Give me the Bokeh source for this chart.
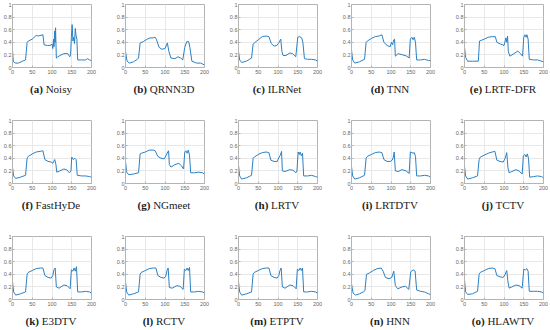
from bokeh.plotting import figure
from bokeh.layouts import column, row
from bokeh.models import Div, Range1d, FixedTicker
from bokeh.embed import file_html
from bokeh.resources import INLINE

x_ticks = [0, 50, 100, 150, 200]
x_tick_labels = ["0", "50", "100", "150", "200"]
y_ticks = [0, 0.2, 0.4, 0.6, 0.8, 1]
y_tick_labels = ["0", "0.2", "0.4", "0.6", "0.8", "1"]

letters = ["a", "b", "c", "d", "e", "f", "g", "h", "i", "j", "k", "l", "m", "n", "o"]
names = ["Noisy", "QRNN3D", "ILRNet", "TNN", "LRTF-DFR",
         "FastHyDe", "NGmeet", "LRTV", "LRTDTV", "TCTV",
         "E3DTV", "RCTV", "ETPTV", "HNN", "HLAWTV"]

noisy_x = [0, 2, 4, 8, 15, 25, 33, 37, 40, 50, 60, 65, 77, 80, 88, 95, 100, 102, 104, 105, 107, 108, 109, 111,
           115, 120, 130, 140, 145, 147, 149, 151, 153, 155, 157, 159, 161, 163, 165, 175, 185, 190, 195, 200]
noisy_y = [0.27, 0.10, 0.08, 0.07, 0.07, 0.10, 0.12, 0.40, 0.42, 0.45, 0.51, 0.50, 0.52, 0.36, 0.35, 0.35, 0.37, 0.30,
           0.45, 0.33, 0.58, 0.40, 0.63, 0.15, 0.17, 0.19, 0.22, 0.22, 0.17, 0.20, 0.48, 0.68, 0.42, 0.48, 0.38, 0.62,
           0.50, 0.45, 0.12, 0.12, 0.12, 0.14, 0.12, 0.11]

qrnn3d_x = [0, 4, 10, 20, 30, 33, 37, 45, 55, 62, 70, 75, 78, 85, 92, 100, 106, 110, 115, 125, 133, 140, 145, 150,
            155, 160, 163, 168, 180, 190, 200]
qrnn3d_y = [0.25, 0.10, 0.07, 0.09, 0.13, 0.15, 0.39, 0.41, 0.45, 0.47, 0.47, 0.48, 0.45, 0.32, 0.29, 0.30, 0.39,
            0.25, 0.15, 0.14, 0.17, 0.15, 0.12, 0.32, 0.41, 0.41, 0.32, 0.10, 0.07, 0.07, 0.04]

ilrnet_x = [0, 3, 8, 20, 33, 37, 40, 50, 60, 70, 77, 83, 90, 97, 103, 107, 110, 113, 120, 130, 137, 145, 150, 155,
            160, 163, 167, 175, 185, 195, 200]
ilrnet_y = [0.25, 0.12, 0.08, 0.10, 0.15, 0.37, 0.39, 0.44, 0.49, 0.50, 0.49, 0.38, 0.34, 0.35, 0.40, 0.45, 0.25,
            0.19, 0.19, 0.23, 0.22, 0.17, 0.48, 0.49, 0.47, 0.40, 0.14, 0.13, 0.13, 0.12, 0.10]

tnn_x = [0, 3, 8, 20, 33, 37, 40, 50, 60, 70, 77, 82, 90, 98, 101, 104, 107, 109, 111, 118, 130, 140, 146, 149,
         153, 156, 159, 162, 165, 175, 185, 195, 200]
tnn_y = [0.28, 0.12, 0.07, 0.09, 0.13, 0.40, 0.42, 0.46, 0.49, 0.50, 0.52, 0.40, 0.35, 0.33, 0.40, 0.36, 0.44,
         0.45, 0.18, 0.22, 0.20, 0.18, 0.15, 0.45, 0.48, 0.44, 0.48, 0.40, 0.12, 0.12, 0.13, 0.11, 0.11]

lrtfdfr_x = [0, 3, 8, 20, 35, 38, 42, 50, 60, 70, 78, 82, 92, 100, 103, 105, 107, 109, 111, 115, 125, 135, 142,
             147, 150, 153, 156, 158, 161, 164, 175, 185, 195, 200]
lrtfdfr_y = [0.32, 0.16, 0.10, 0.10, 0.10, 0.42, 0.43, 0.45, 0.48, 0.49, 0.49, 0.40, 0.37, 0.35, 0.42, 0.47, 0.40,
             0.50, 0.25, 0.18, 0.22, 0.26, 0.22, 0.18, 0.48, 0.52, 0.48, 0.52, 0.45, 0.13, 0.12, 0.12, 0.10, 0.09]

fasthyde_x = [0, 3, 8, 20, 33, 37, 40, 50, 60, 70, 77, 82, 90, 98, 102, 107, 110, 112, 120, 130, 137, 144, 148,
              150, 154, 158, 161, 164, 175, 185, 195, 200]
fasthyde_y = [0.25, 0.12, 0.08, 0.10, 0.13, 0.40, 0.43, 0.47, 0.50, 0.51, 0.52, 0.38, 0.35, 0.34, 0.32, 0.38, 0.30,
              0.18, 0.20, 0.23, 0.22, 0.17, 0.20, 0.42, 0.38, 0.40, 0.38, 0.13, 0.12, 0.12, 0.11, 0.10]

ngmeet_x = [0, 3, 8, 20, 33, 37, 40, 50, 60, 70, 75, 82, 90, 98, 103, 107, 109, 111, 115, 125, 135, 142, 147, 150,
            153, 156, 159, 162, 165, 175, 185, 195, 200]
ngmeet_y = [0.35, 0.18, 0.14, 0.15, 0.17, 0.47, 0.48, 0.50, 0.53, 0.53, 0.52, 0.43, 0.40, 0.39, 0.45, 0.50, 0.52,
            0.30, 0.26, 0.30, 0.32, 0.28, 0.23, 0.50, 0.52, 0.48, 0.53, 0.45, 0.17, 0.17, 0.18, 0.17, 0.15]

lrtv_x = [0, 3, 8, 20, 33, 37, 40, 50, 60, 70, 77, 82, 90, 98, 103, 106, 109, 111, 118, 130, 138, 145, 148, 151,
          154, 156, 159, 162, 165, 175, 185, 195, 200]
lrtv_y = [0.29, 0.12, 0.07, 0.09, 0.13, 0.40, 0.42, 0.46, 0.49, 0.50, 0.49, 0.37, 0.35, 0.35, 0.42, 0.45, 0.51,
          0.20, 0.19, 0.22, 0.21, 0.17, 0.20, 0.50, 0.46, 0.50, 0.44, 0.48, 0.12, 0.12, 0.13, 0.11, 0.10]

lrtdtv_x = [0, 3, 8, 20, 33, 37, 40, 50, 60, 70, 77, 82, 90, 98, 103, 106, 108, 111, 118, 128, 138, 146, 149, 153,
            156, 159, 162, 165, 175, 185, 195, 200]
lrtdtv_y = [0.27, 0.12, 0.07, 0.09, 0.13, 0.40, 0.43, 0.46, 0.49, 0.50, 0.49, 0.38, 0.35, 0.35, 0.37, 0.42, 0.50,
            0.20, 0.19, 0.22, 0.20, 0.16, 0.50, 0.49, 0.48, 0.49, 0.43, 0.12, 0.12, 0.13, 0.12, 0.10]

tctv_x = [0, 3, 8, 20, 33, 37, 40, 50, 60, 70, 77, 82, 90, 98, 103, 107, 110, 113, 120, 130, 138, 146, 149, 153,
          156, 159, 162, 165, 175, 185, 195, 200]
tctv_y = [0.27, 0.12, 0.07, 0.09, 0.12, 0.38, 0.42, 0.45, 0.48, 0.50, 0.51, 0.37, 0.35, 0.34, 0.40, 0.49, 0.25,
          0.17, 0.19, 0.22, 0.20, 0.15, 0.44, 0.46, 0.42, 0.47, 0.40, 0.10, 0.11, 0.12, 0.11, 0.09]

e3dtv_x = [0, 3, 8, 20, 33, 37, 40, 50, 60, 70, 77, 82, 90, 98, 102, 105, 108, 111, 118, 130, 138, 146, 149, 153,
           156, 159, 162, 165, 175, 185, 195, 200]
e3dtv_y = [0.28, 0.12, 0.07, 0.09, 0.12, 0.40, 0.43, 0.46, 0.49, 0.50, 0.50, 0.38, 0.35, 0.34, 0.38, 0.47, 0.50,
           0.20, 0.18, 0.23, 0.22, 0.17, 0.47, 0.45, 0.50, 0.45, 0.52, 0.12, 0.12, 0.13, 0.12, 0.10]

rctv_x = [0, 3, 8, 20, 33, 37, 40, 50, 60, 70, 77, 82, 90, 98, 102, 105, 108, 111, 118, 130, 138, 146, 149, 153,
          156, 159, 162, 165, 175, 185, 195, 200]
rctv_y = [0.28, 0.12, 0.07, 0.09, 0.12, 0.40, 0.43, 0.46, 0.49, 0.50, 0.50, 0.38, 0.35, 0.34, 0.37, 0.46, 0.50,
          0.19, 0.18, 0.22, 0.21, 0.16, 0.48, 0.46, 0.50, 0.46, 0.51, 0.12, 0.12, 0.13, 0.12, 0.10]

etptv_x = [0, 3, 8, 20, 33, 37, 40, 50, 60, 70, 77, 82, 90, 98, 102, 105, 108, 111, 118, 130, 138, 146, 149, 153,
           156, 159, 162, 165, 175, 185, 195, 200]
etptv_y = [0.28, 0.12, 0.07, 0.09, 0.12, 0.40, 0.43, 0.46, 0.49, 0.50, 0.50, 0.38, 0.35, 0.34, 0.38, 0.46, 0.50,
           0.20, 0.18, 0.23, 0.22, 0.17, 0.48, 0.46, 0.50, 0.46, 0.50, 0.12, 0.12, 0.13, 0.12, 0.10]

hnn_x = [0, 4, 10, 20, 30, 34, 38, 45, 55, 65, 75, 80, 86, 95, 102, 107, 111, 117, 128, 137, 145, 150, 156, 161,
         165, 175, 185, 195, 200]
hnn_y = [0.25, 0.10, 0.07, 0.09, 0.12, 0.14, 0.40, 0.42, 0.46, 0.49, 0.50, 0.45, 0.35, 0.33, 0.35, 0.45, 0.22,
         0.17, 0.20, 0.21, 0.16, 0.44, 0.47, 0.45, 0.15, 0.13, 0.12, 0.09, 0.08]

hlawtv_x = [0, 3, 8, 20, 33, 37, 40, 50, 60, 70, 77, 82, 90, 98, 103, 107, 110, 113, 120, 130, 138, 146, 150, 154,
            158, 161, 164, 175, 185, 195, 200]
hlawtv_y = [0.31, 0.12, 0.08, 0.09, 0.13, 0.40, 0.43, 0.46, 0.49, 0.50, 0.49, 0.38, 0.36, 0.35, 0.40, 0.46, 0.28,
            0.18, 0.20, 0.23, 0.22, 0.18, 0.48, 0.47, 0.49, 0.45, 0.13, 0.13, 0.13, 0.12, 0.10]

series = [
    (noisy_x, noisy_y), (qrnn3d_x, qrnn3d_y), (ilrnet_x, ilrnet_y), (tnn_x, tnn_y), (lrtfdfr_x, lrtfdfr_y),
    (fasthyde_x, fasthyde_y), (ngmeet_x, ngmeet_y), (lrtv_x, lrtv_y), (lrtdtv_x, lrtdtv_y), (tctv_x, tctv_y),
    (e3dtv_x, e3dtv_y), (rctv_x, rctv_y), (etptv_x, etptv_y), (hnn_x, hnn_y), (hlawtv_x, hlawtv_y),
]

LINE = "#2b80c4"
GRID = "#e8e8e8"
BOX = "#b4b4b4"
TICKTXT = "#666666"


def make_cell(i):
    col = i % 5
    r = i // 5
    xs, ys = series[i]
    w = 113 if col < 4 else 96
    right = 22 if col < 4 else 5
    p = figure(width=w, height=80,
               x_range=Range1d(0, 200), y_range=Range1d(0, 1),
               toolbar_location=None, output_backend="svg",
               min_border_left=11, min_border_right=right,
               min_border_top=4, min_border_bottom=13)
    p.line(xs, ys, line_color=LINE, line_width=1)
    p.outline_line_color = BOX
    p.outline_line_width = 1
    p.background_fill_color = "white"
    p.border_fill_color = "white"
    for ax in (p.xaxis[0], p.yaxis[0]):
        ax.axis_line_color = BOX
        ax.major_tick_line_color = BOX
        ax.major_tick_in = 2
        ax.major_tick_out = 0
        ax.minor_tick_line_color = None
        ax.major_label_text_font = "Liberation Sans"
        ax.major_label_text_font_size = "5.5px"
        ax.major_label_text_color = TICKTXT
        ax.major_label_standoff = 2
    p.yaxis[0].major_label_standoff = 1
    p.xaxis[0].ticker = FixedTicker(ticks=x_ticks)
    p.yaxis[0].ticker = FixedTicker(ticks=y_ticks)
    p.xaxis[0].major_label_overrides = {t: s for t, s in zip(x_ticks, x_tick_labels)}
    p.yaxis[0].major_label_overrides = {t: s for t, s in zip(y_ticks, y_tick_labels)}
    p.xgrid.grid_line_color = GRID
    p.ygrid.grid_line_color = GRID
    p.xgrid.ticker = FixedTicker(ticks=x_ticks)
    p.ygrid.ticker = FixedTicker(ticks=y_ticks)

    h = 36 if r < 2 else 18
    html = ('<div style="width:102px;text-align:center;padding-top:2px;'
            'font-family:\'Liberation Serif\',serif;font-size:11px;line-height:14px;color:#222;'
            'white-space:nowrap">'
            '<b>(%s)</b> %s</div>' % (letters[i], names[i]))
    d = Div(text=html, width=w, height=h, margin=0,
            styles={"font-family": "Liberation Serif"})
    return column(p, d, spacing=0, margin=0)


rows = [row([make_cell(r * 5 + c) for c in range(5)], spacing=0, margin=0) for r in range(3)]
layout = column(rows, spacing=0, margin=0,
                styles={"position": "absolute", "left": "0px", "top": "0px"})

open("out.html", "w").write(file_html(layout, INLINE))
